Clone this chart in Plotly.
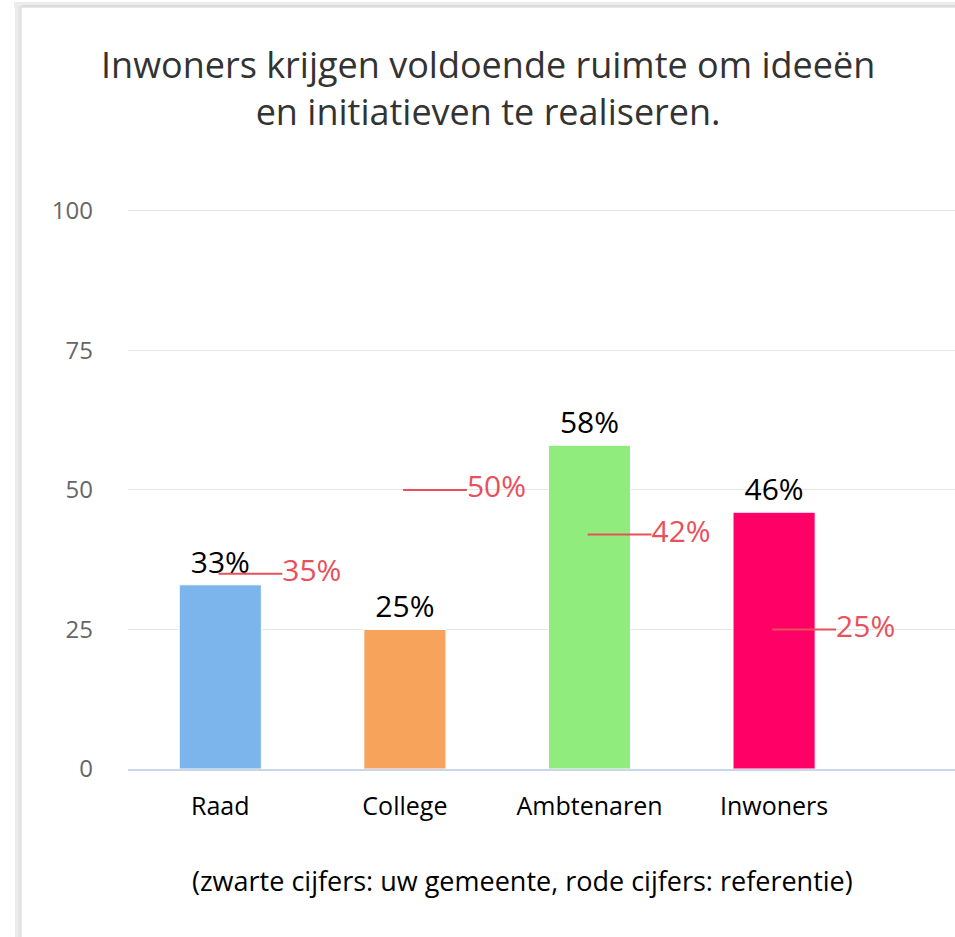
import plotly.graph_objects as go

categories = ["Raad", "College", "Ambtenaren", "Inwoners"]
values = [33, 25, 58, 46]
reference = [35, 50, 42, 25]
bar_colors = ["#7cb5ec", "#f7a35c", "#90ed7d", "#ff0066"]
y_ticks = [0, 25, 50, 75, 100]
title_text = "Inwoners krijgen voldoende ruimte om ideeën<br>en initiatieven te realiseren."
note_text = "(zwarte cijfers: uw gemeente, rode cijfers: referentie)"

W, H = 955, 937
L, R, T, B = 128, 0, 208, 168
FONT = "Open Sans, DejaVu Sans, sans-serif"
RED = "#e8505b"

xs = list(range(len(categories)))

fig = go.Figure()
fig.add_trace(go.Bar(
    x=xs, y=values, width=0.445,
    marker=dict(color=bar_colors, line=dict(color="white", width=1)),
    text=[f"{v}%" for v in values], textposition="outside",
    textfont=dict(family=FONT, size=30, color="#000000"),
    cliponaxis=False, showlegend=False, hoverinfo="skip",
))

for i, r in zip(xs, reference):
    fig.add_trace(go.Scatter(
        x=[i - 0.01, i + 0.336], y=[r, r], mode="lines+text",
        line=dict(color=RED, width=2),
        text=["", f"{r}%"], textposition="middle right",
        textfont=dict(family=FONT, size=30, color=RED),
        cliponaxis=False, showlegend=False, hoverinfo="skip",
    ))

def px(xp):
    return (xp - L) / (W - L - R)

def py(yp):
    return (H - B - yp) / (H - T - B)

shapes = [
    # card shadow (top and left)
    dict(type="rect", xref="paper", yref="paper", x0=px(14), x1=px(960), y0=py(2), y1=py(7.5),
         fillcolor="#ececec", line=dict(width=0), layer="below"),
    dict(type="rect", xref="paper", yref="paper", x0=px(17), x1=px(960), y0=py(5), y1=py(7.5),
         fillcolor="#dcdcdc", line=dict(width=0), layer="below"),
    dict(type="rect", xref="paper", yref="paper", x0=px(15), x1=px(21.5), y0=py(940), y1=py(4),
         fillcolor="#ececec", line=dict(width=0), layer="below"),
    dict(type="rect", xref="paper", yref="paper", x0=px(18.5), x1=px(21.5), y0=py(940), y1=py(6),
         fillcolor="#e2e2e2", line=dict(width=0), layer="below"),
]

fig.update_layout(
    width=W, height=H,
    margin=dict(l=L, r=R, t=T, b=B, pad=0),
    paper_bgcolor="white", plot_bgcolor="white",
    font=dict(family=FONT, color="#333333"),
    bargap=0.5,
    shapes=shapes,
    xaxis=dict(
        range=[-0.5, 3.98], tickmode="array", tickvals=xs, ticktext=categories,
        tickfont=dict(family=FONT, size=25, color="#000000"),
        showgrid=False, zeroline=False, showline=True, linecolor="#ccd6eb", linewidth=2,
        ticks="", ticklabelstandoff=14, fixedrange=True,
    ),
    yaxis=dict(
        range=[0, 100.5], tickmode="array", tickvals=y_ticks,
        tickfont=dict(family=FONT, size=24, color="#666666"),
        showgrid=True, gridcolor="#e6e6e6", gridwidth=1,
        zeroline=False, showline=False, ticks="", ticklabelstandoff=34, fixedrange=True,
    ),
    annotations=[
        dict(text=title_text, xref="paper", yref="paper", x=px(488), y=py(88),
             xanchor="center", yanchor="middle", showarrow=False,
             font=dict(family=FONT, size=36, color="#333333")),
        dict(text=note_text, xref="paper", yref="paper", x=px(522), y=py(880),
             xanchor="center", yanchor="middle", showarrow=False,
             font=dict(family=FONT, size=27, color="#000000")),
    ],
)

fig.write_html(
    "out.html",
    config={"displayModeBar": False},
    post_script="document.body.style.margin='0';document.body.style.overflow='hidden';",
)
